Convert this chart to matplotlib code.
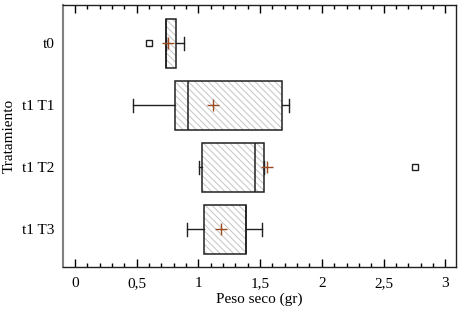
import matplotlib
matplotlib.use("Agg")
import matplotlib.pyplot as plt
from matplotlib.colors import to_rgba
from matplotlib.ticker import MultipleLocator, FixedLocator

plt.rcParams['font.family'] = ['Liberation Serif', 'DejaVu Serif']
plt.rcParams['hatch.linewidth'] = 0.7

categories = ["t0", "t1 T1", "t1 T2", "t1 T3"]
whisker_low = [0.74, 0.473, 1.002, 0.908]
q1 = [0.74, 0.813, 1.027, 1.048]
median = [0.74, 0.918, 1.459, 1.386]
q3 = [0.82, 1.68, 1.534, 1.386]
whisker_high = [0.886, 1.734, 1.534, 1.515]
means = [0.756, 1.121, 1.558, 1.181]
outliers = [[0.60], [], [2.753], []]

xticks = [0, 0.5, 1, 1.5, 2, 2.5, 3]
xtick_labels = ["0", "0,5", "1", "1,5", "2", "2,5", "3"]

fig = plt.figure(figsize=(4.59, 3.10), dpi=100)
ax = fig.add_axes([63/459, 1 - 267/310, (456-63)/459, (267-5)/310])

stats = []
for i, c in enumerate(categories):
    stats.append(dict(label=c, whislo=whisker_low[i], q1=q1[i], med=median[i],
                      q3=q3[i], whishi=whisker_high[i], mean=means[i],
                      fliers=outliers[i]))

positions = list(range(len(categories)))
bp = ax.bxp(stats, positions=positions, vert=False, widths=0.79,
            patch_artist=True, showmeans=True, showcaps=True,
            boxprops=dict(facecolor='white', edgecolor='#202020', linewidth=1.1, hatch='\\\\\\\\\\'),
            medianprops=dict(color='#202020', linewidth=1.1),
            whiskerprops=dict(color='#202020', linewidth=1.0),
            capprops=dict(color='#202020', linewidth=1.0),
            capwidths=0.2,
            meanprops=dict(marker='+', markeredgecolor='#9c4a20', markersize=8, markeredgewidth=1.0),
            flierprops=dict(marker='s', markerfacecolor='white', markeredgecolor='#202020',
                            markersize=4, markeredgewidth=1.0))

for b in bp['boxes']:
    b._hatch_color = to_rgba('#c4c4c4')
    b.stale = True

ax.set_xlim(-0.097, 3.087)
ax.set_ylim(3.608, -0.618)
ax.set_yticks(positions)
ax.set_yticklabels(categories, fontsize=11)
ax.tick_params(axis='y', length=0, pad=6)

ax.xaxis.set_major_locator(FixedLocator(xticks))
ax.set_xticklabels(xtick_labels, fontsize=11)
ax.xaxis.set_minor_locator(MultipleLocator(0.1))
ax.tick_params(axis='x', which='major', direction='in', length=6, width=1, top=True, bottom=True, pad=7)
ax.tick_params(axis='x', which='minor', direction='in', length=3, width=1, top=True, bottom=True)

ax.spines['left'].set_color('#808080')
ax.spines['left'].set_linewidth(1.5)
for s in ['top', 'right', 'bottom']:
    ax.spines[s].set_color('#202020')
    ax.spines[s].set_linewidth(1.0)

ax.set_xlabel("Peso seco (gr)", fontsize=11, labelpad=2)
ax.set_ylabel("Tratamiento", fontsize=11, labelpad=5)

fig.savefig("out.png", dpi=100)
